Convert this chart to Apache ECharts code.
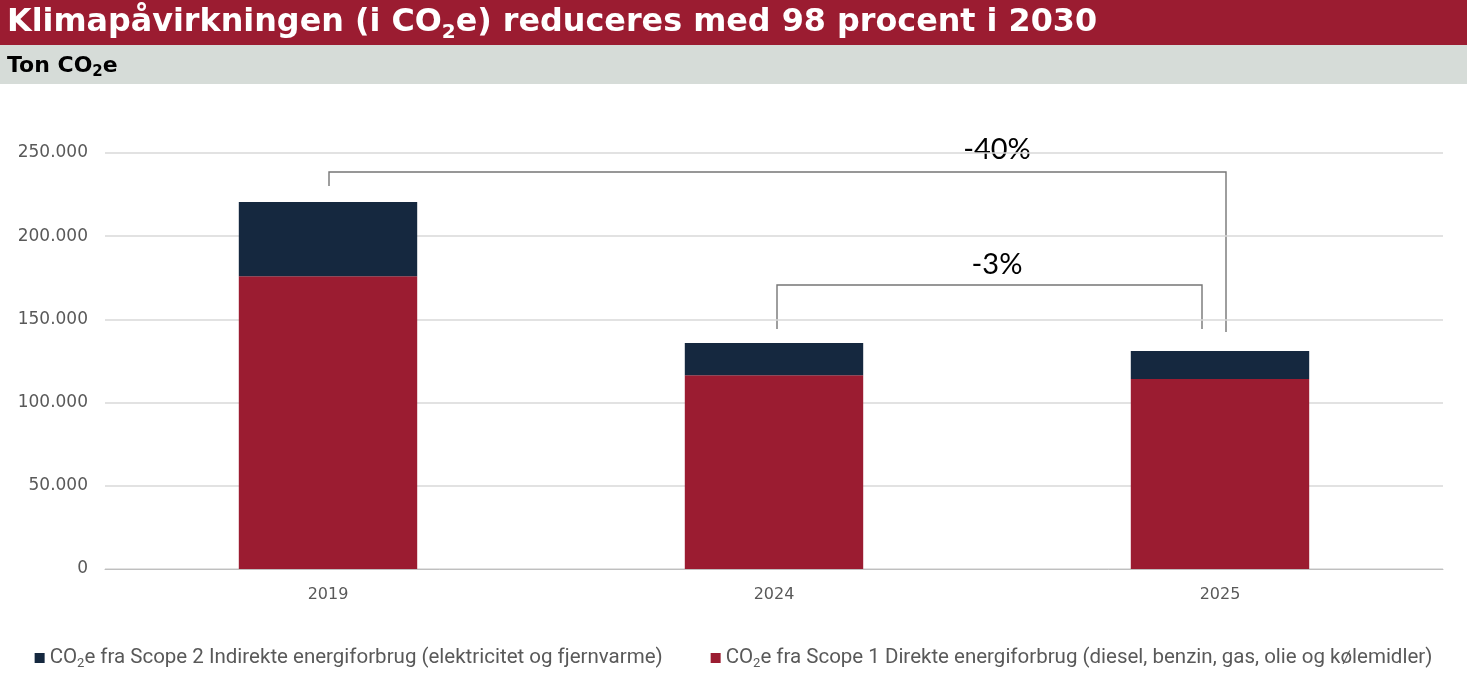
<!DOCTYPE html>
<html>
<head>
<meta charset="utf-8">
<script src="https://cdn.jsdelivr.net/npm/echarts@6/dist/echarts.min.js"></script>
<style>
  html, body { margin: 0; padding: 0; background: #fff; }
  #chart { width: 1467px; height: 700px; }
</style>
</head>
<body>
<div id="chart"></div>
<script>
// data (ton CO2e)
const years = ['2019', '2024', '2025']
const scope1 = [176000, 116500, 114200]
const scope2 = [44500, 19300, 16800]
const yTicks = [0, 50000, 100000, 150000, 200000, 250000]
const scope1Name = 'CO₂e fra Scope 1 Direkte energiforbrug (diesel, benzin, gas, olie og kølemidler)'
const scope2Name = 'CO₂e fra Scope 2 Indirekte energiforbrug (elektricitet og fjernvarme)'
const changeLabels = ['-40%', '-3%']

const red = '#9b1c31'
const navy = '#15283f'
const legendFont = 'Roboto, sans-serif'

// turn "CO₂" into rich text with a real subscript
function sub(text, style) {
  return text.split('₂').map(t => `{${style}|${t}}`).join(`{${style}s|2}`)
}

const chart = echarts.init(document.getElementById('chart'))

const option = {
  animation: false,
  title: [
    {
      text: sub('Klimapåvirkningen (i CO₂e) reduceres med 98 procent i 2030', 't'),
      left: 7, top: 3, padding: 0,
      textStyle: {
        rich: {
          t: { color: '#fff', fontFamily: 'DejaVu Sans', fontWeight: 'bold', fontSize: 31.8, lineHeight: 40 },
          ts: { color: '#fff', fontFamily: 'DejaVu Sans', fontWeight: 'bold', fontSize: 20, lineHeight: 22, verticalAlign: 'bottom' }
        }
      }
    },
    {
      text: sub('Ton CO₂e', 'u'),
      left: 7, top: 52, padding: 0,
      textStyle: {
        rich: {
          u: { color: '#000', fontFamily: 'DejaVu Sans', fontWeight: 'bold', fontSize: 22, lineHeight: 28 },
          us: { color: '#000', fontFamily: 'DejaVu Sans', fontWeight: 'bold', fontSize: 15, lineHeight: 16, verticalAlign: 'bottom' }
        }
      }
    }
  ],
  grid: { left: 105, right: 24, top: 153, bottom: 131 },
  legend: {
    bottom: 25,
    left: 'center',
    icon: 'rect',
    itemWidth: 10,
    itemHeight: 10,
    itemGap: 48,
    data: [scope2Name, scope1Name],
    formatter: name => sub(name, 'l'),
    textStyle: {
      rich: {
        l: { color: '#595959', fontFamily: legendFont, fontSize: 20.5, lineHeight: 24 },
        ls: { color: '#595959', fontFamily: legendFont, fontSize: 13, lineHeight: 13, verticalAlign: 'bottom' }
      }
    }
  },
  xAxis: {
    type: 'category',
    data: years,
    axisLine: { lineStyle: { color: '#bfbfbf' } },
    axisTick: { show: false },
    axisLabel: { color: '#595959', fontFamily: 'DejaVu Sans', fontSize: 16, margin: 18 }
  },
  yAxis: {
    type: 'value',
    min: yTicks[0],
    max: yTicks[yTicks.length - 1],
    interval: yTicks[1] - yTicks[0],
    axisLine: { show: false },
    axisTick: { show: false },
    splitLine: { lineStyle: { color: '#d9d9d9', width: 1.5 } },
    axisLabel: {
      color: '#595959', fontFamily: 'DejaVu Sans', fontSize: 17, margin: 17,
      formatter: v => v.toString().replace(/\B(?=(\d{3})+(?!\d))/g, '.')
    }
  },
  series: [
    {
      name: scope1Name, type: 'bar', stack: 'co2', data: scope1,
      barWidth: '40%', itemStyle: { color: red }
    },
    {
      name: scope2Name, type: 'bar', stack: 'co2', data: scope2,
      barWidth: '40%', itemStyle: { color: navy }
    }
  ],
  graphic: []
}

chart.setOption(option)

function px(idx, val) {
  return chart.convertToPixel({ gridIndex: 0 }, [idx, val])
}

// header bands and the change brackets, placed through the axes
function drawExtras() {
  const lineStyle = { stroke: '#767676', lineWidth: 1.4, fill: null }
  const labelStyle = { fill: '#000', font: '29px Lato', textAlign: 'center', textVerticalAlign: 'middle' }

  const p0 = px(0, 0), p1 = px(1, 0), p2 = px(2, 0)
  const mid12 = (p1[0] + p2[0]) / 2

  // -40 %: 2019 -> 2025
  const topY = px(0, 238600)[1]
  const legL = px(0, 230200)[1]
  const legR = px(2, 142400)[1]
  // -3 %: 2024 -> 2025
  const midY = px(0, 170700)[1]
  const legM = px(0, 144200)[1]

  const g = [
    { type: 'rect', z: -1, shape: { x: 0, y: 0, width: 1467, height: 45 }, style: { fill: red } },
    { type: 'rect', z: -1, shape: { x: 0, y: 45, width: 1467, height: 39 }, style: { fill: '#d6dcd8' } },
    {
      type: 'polyline',
      shape: { points: [[p0[0] + 1, legL], [p0[0] + 1, topY], [p2[0] + 6, topY], [p2[0] + 6, legR]] },
      style: lineStyle
    },
    {
      type: 'polyline',
      shape: { points: [[p1[0] + 3, legM], [p1[0] + 3, midY], [p2[0] - 18, midY], [p2[0] - 18, legM]] },
      style: lineStyle
    },
    { type: 'text', x: mid12, y: px(0, 251800)[1], style: Object.assign({ text: changeLabels[0] }, labelStyle) },
    { type: 'text', x: mid12, y: px(0, 182700)[1], style: Object.assign({ text: changeLabels[1] }, labelStyle) }
  ]
  chart.setOption({ graphic: g })
}

drawExtras()
</script>
</body>
</html>
